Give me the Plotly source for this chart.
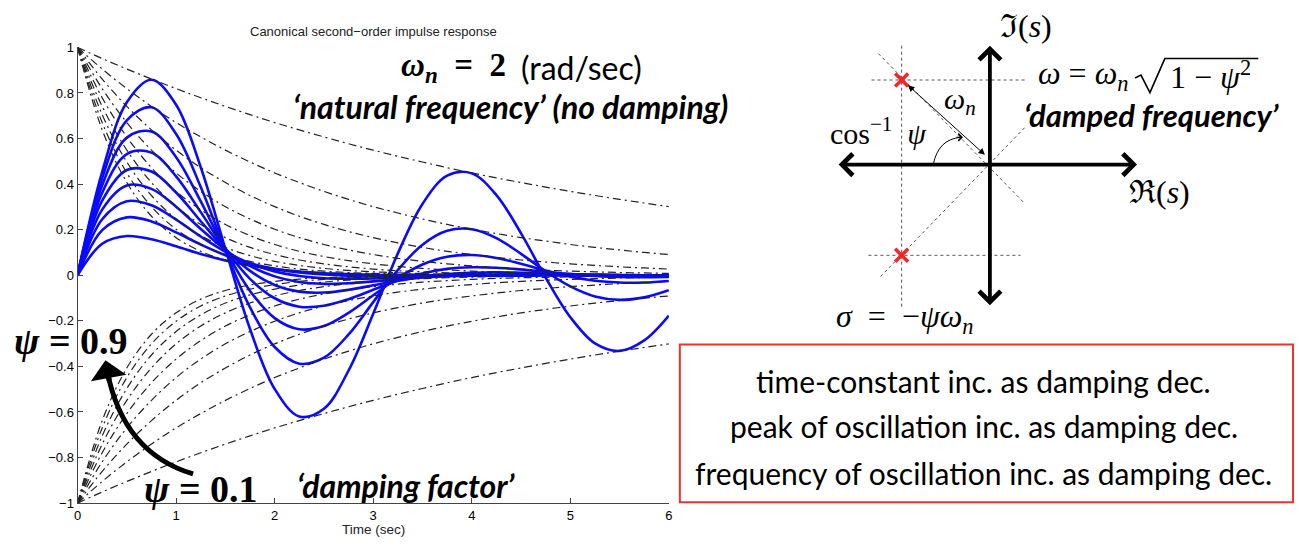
import plotly.graph_objects as go

# ---------------- data ----------------
T = [0.0, 0.25, 0.5, 0.75, 1.0, 1.25, 1.5, 1.75, 2.0, 2.25, 2.5, 2.75, 3.0,
     3.25, 3.5, 3.75, 4.0, 4.25, 4.5, 4.75, 5.0, 5.25, 5.5, 5.75, 6.0]

PSI = [0.1, 0.2, 0.3, 0.4, 0.5, 0.6, 0.7, 0.8, 0.9]

# impulse responses (blue)
H_01 = [0, 0.454, 0.759, 0.858, 0.748, 0.474, 0.116, -0.236, -0.499, -0.620, -0.586, -0.418, -0.169,
        0.096, 0.313, 0.437, 0.447, 0.352, 0.184, -0.011, -0.184, -0.299, -0.332, -0.286, -0.177]
H_02 = [0, 0.426, 0.680, 0.737, 0.620, 0.387, 0.110, -0.141, -0.315, -0.388, -0.362, -0.260, -0.118,
        0.023, 0.134, 0.195, 0.202, 0.163, 0.094, 0.017, -0.049, -0.093, -0.108, -0.097, -0.066]
H_03 = [0, 0.395, 0.604, 0.631, 0.518, 0.324, 0.112, -0.069, -0.188, -0.237, -0.223, -0.165, -0.088,
        -0.012, 0.047, 0.081, 0.089, 0.076, 0.050, 0.021, -0.006, -0.024, -0.032, -0.032, -0.025]
H_04 = [0, 0.362, 0.532, 0.538, 0.434, 0.277, 0.115, -0.016, -0.101, -0.138, -0.134, -0.105, -0.064,
        -0.024, 0.008, 0.028, 0.035, 0.033, 0.025, 0.015, 0.005, -0.003, -0.008, -0.009, -0.008]
H_05 = [0, 0.327, 0.462, 0.455, 0.363, 0.237, 0.115, 0.019, -0.043, -0.072, -0.076, -0.064, -0.044,
        -0.024, -0.007, 0.005, 0.011, 0.013, 0.011, 0.008, 0.005, 0.002, 0.000, -0.002, -0.002]
H_06 = [0, 0.288, 0.394, 0.379, 0.301, 0.203, 0.112, 0.041, -0.005, -0.030, -0.038, -0.035, -0.027,
        -0.018, -0.010, -0.003, 0.001, 0.003, 0.004, 0.003, 0.003, 0.002, 0.001, 0.000, 0.000]
H_07 = [0, 0.246, 0.325, 0.307, 0.244, 0.170, 0.103, 0.052, 0.017, -0.003, -0.013, -0.015, -0.014,
        -0.011, -0.007, -0.004, -0.002, -0.001, 0.000, 0.001, 0.001, 0.001, 0.000, 0.000, 0.000]
H_08 = [0, 0.198, 0.254, 0.236, 0.188, 0.135, 0.088, 0.053, 0.028, 0.012, 0.003, -0.002, -0.004,
        -0.004, -0.003, -0.002, -0.002, -0.001, -0.001, 0.000, 0.000, 0.000, 0.000, 0.000, 0.000]
H_09 = [0, 0.138, 0.172, 0.158, 0.127, 0.093, 0.065, 0.043, 0.027, 0.016, 0.009, 0.005, 0.002,
        0.001, 0.000, 0.000, 0.000, 0.000, 0.000, 0.000, 0.000, 0.000, 0.000, 0.000, 0.000]

# decay envelopes (black dash-dot, drawn at + and -)
ENV_01 = [1.000, 0.951, 0.905, 0.861, 0.819, 0.779, 0.741, 0.705, 0.670, 0.638, 0.607, 0.577, 0.549,
          0.522, 0.497, 0.472, 0.449, 0.427, 0.407, 0.387, 0.368, 0.350, 0.333, 0.317, 0.301]
ENV_02 = [1.000, 0.905, 0.819, 0.741, 0.670, 0.607, 0.549, 0.497, 0.449, 0.407, 0.368, 0.333, 0.301,
          0.273, 0.247, 0.223, 0.202, 0.183, 0.165, 0.150, 0.135, 0.122, 0.111, 0.100, 0.091]
ENV_03 = [1.000, 0.861, 0.741, 0.638, 0.549, 0.472, 0.407, 0.350, 0.301, 0.259, 0.223, 0.192, 0.165,
          0.142, 0.122, 0.105, 0.091, 0.078, 0.067, 0.058, 0.050, 0.043, 0.037, 0.032, 0.027]
ENV_04 = [1.000, 0.819, 0.670, 0.549, 0.449, 0.368, 0.301, 0.247, 0.202, 0.165, 0.135, 0.111, 0.091,
          0.074, 0.061, 0.050, 0.041, 0.033, 0.027, 0.022, 0.018, 0.015, 0.012, 0.010, 0.008]
ENV_05 = [1.000, 0.779, 0.607, 0.472, 0.368, 0.287, 0.223, 0.174, 0.135, 0.105, 0.082, 0.064, 0.050,
          0.039, 0.030, 0.024, 0.018, 0.014, 0.011, 0.009, 0.007, 0.005, 0.004, 0.003, 0.002]
ENV_06 = [1.000, 0.741, 0.549, 0.407, 0.301, 0.223, 0.165, 0.122, 0.091, 0.067, 0.050, 0.037, 0.027,
          0.020, 0.015, 0.011, 0.008, 0.006, 0.005, 0.003, 0.002, 0.002, 0.001, 0.001, 0.001]
ENV_07 = [1.000, 0.705, 0.497, 0.350, 0.247, 0.174, 0.122, 0.086, 0.061, 0.043, 0.030, 0.021, 0.015,
          0.011, 0.007, 0.005, 0.004, 0.003, 0.002, 0.001, 0.001, 0.001, 0.000, 0.000, 0.000]
ENV_08 = [1.000, 0.670, 0.449, 0.301, 0.202, 0.135, 0.091, 0.061, 0.041, 0.027, 0.018, 0.012, 0.008,
          0.006, 0.004, 0.002, 0.002, 0.001, 0.001, 0.000, 0.000, 0.000, 0.000, 0.000, 0.000]
ENV_09 = [1.000, 0.638, 0.407, 0.259, 0.165, 0.105, 0.067, 0.043, 0.027, 0.017, 0.011, 0.007, 0.005,
          0.003, 0.002, 0.001, 0.001, 0.000, 0.000, 0.000, 0.000, 0.000, 0.000, 0.000, 0.000]

RESPONSES = [H_01, H_02, H_03, H_04, H_05, H_06, H_07, H_08, H_09]
ENVELOPES = [ENV_01, ENV_02, ENV_03, ENV_04, ENV_05, ENV_06, ENV_07, ENV_08, ENV_09]

XTICKS = [0, 1, 2, 3, 4, 5, 6]
YTICKS = [-1, -0.8, -0.6, -0.4, -0.2, 0, 0.2, 0.4, 0.6, 0.8, 1]
YTICK_TEXT = ["\u22121", "\u22120.8", "\u22120.6", "\u22120.4", "\u22120.2", "0",
              "0.2", "0.4", "0.6", "0.8", "1"]

# s-plane sketch: pole locations (sigma, omega)
POLE_SIGMA = [-1.41, -1.41]
POLE_OMEGA = [1.38, -1.48]

BOX_LINES = ["time-constant inc. as damping dec.",
             "peak of oscillation inc. as damping dec.",
             "frequency of oscillation inc. as damping dec."]

# ---------------- figure ----------------
W, H = 1304, 551


def px(x, y):
    return x / W, 1 - y / H


fig = go.Figure()

DASHDOT = "8px,4px,2px,4px"
for h, env in zip(RESPONSES, ENVELOPES):
    fig.add_trace(go.Scatter(x=T, y=h, mode="lines", xaxis="x", yaxis="y",
                             line=dict(color="#0a0aff", width=2.6, shape="spline"),
                             hoverinfo="skip"))
    fig.add_trace(go.Scatter(x=T, y=env, mode="lines", xaxis="x", yaxis="y",
                             line=dict(color="#222", width=1.2, dash=DASHDOT, shape="spline"),
                             hoverinfo="skip"))
    fig.add_trace(go.Scatter(x=T, y=[-v for v in env], mode="lines", xaxis="x", yaxis="y",
                             line=dict(color="#222", width=1.2, dash=DASHDOT, shape="spline"),
                             hoverinfo="skip"))

# poles
fig.add_trace(go.Scatter(x=POLE_SIGMA, y=POLE_OMEGA, mode="markers", xaxis="x2", yaxis="y2",
                         marker=dict(symbol="x-thin", size=13, line=dict(color="#f02828", width=3.5)),
                         hoverinfo="skip"))

TICKFONT = dict(family="Liberation Sans, Arial", size=13, color="black")
fig.update_layout(
    width=W, height=H,
    margin=dict(l=0, r=0, t=0, b=0),
    paper_bgcolor="white", plot_bgcolor="white",
    showlegend=False,
    xaxis=dict(domain=[74 / W, 669 / W], range=[0, 6], tickvals=XTICKS,
               showline=True, linecolor="#444", linewidth=1, ticks="inside", ticklen=5,
               tickcolor="#444", showgrid=False, zeroline=False, tickfont=TICKFONT,
               anchor="y"),
    yaxis=dict(domain=[1 - 510 / H, 1 - 41.5 / H], range=[-1, 1], tickvals=YTICKS,
               ticktext=YTICK_TEXT,
               showline=True, linecolor="#444", linewidth=1, ticks="inside", ticklen=5,
               tickcolor="#444", showgrid=False, zeroline=False, tickfont=TICKFONT,
               anchor="x"),
    xaxis2=dict(domain=[820 / W, 1200 / W], range=[-2.730, 3.302], visible=False,
                anchor="y2", showgrid=False, zeroline=False),
    yaxis2=dict(domain=[1 - 340 / H, 1.0], range=[-2.825, 2.571], visible=False,
                anchor="x2", showgrid=False, zeroline=False),
)

shapes = []
# s-plane dotted construction lines
dot = dict(color="#555", width=1, dash="dot")
for (x0, y0, x1, y1) in [(-1.41, 1.94, -1.41, -2.32),
                         (-1.89, 1.38, 0.57, 1.38),
                         (-1.94, -1.48, 0.49, -1.48),
                         (-1.78, 1.81, 0.556, -0.635),
                         (-1.746, -1.825, 0.571, 0.619)]:
    shapes.append(dict(type="line", xref="x2", yref="y2", x0=x0, y0=y0, x1=x1, y1=y1, line=dot,
                       layer="below"))
# angle arc
shapes.append(dict(type="path", xref="x2", yref="y2", path="M -0.905,0 Q -0.825,0.413 -0.470,0.444",
                   line=dict(color="black", width=1)))
# curved arrow on the left plot
shapes.append(dict(type="path", xref="x", yref="y", path="M 1.172,-0.872 Q 0.465,-0.780 0.303,-0.424",
                   line=dict(color="black", width=5)))


# square-root sign drawn as a path (paper coordinates)
def ppath(points):
    parts = []
    for i, (x, y) in enumerate(points):
        xp, yp = px(x, y)
        parts.append(("M" if i == 0 else "L") + f" {xp:.5f},{yp:.5f}")
    return " ".join(parts)


shapes.append(dict(type="path", xref="paper", yref="paper",
                   path=ppath([(1138, 73), (1144, 70), (1153, 88), (1168, 53), (1262, 53)]),
                   line=dict(color="black", width=1.6)))
# red text box
bx0, by0 = px(680, 509)
bx1, by1 = px(1297, 347)
shapes.append(dict(type="rect", xref="paper", yref="paper", x0=bx0, y0=by0, x1=bx1, y1=by1,
                   line=dict(color="#e8342c", width=2), fillcolor="rgba(0,0,0,0)"))
fig.update_layout(shapes=shapes)

ann = []
# thick s-plane axes (double arrows)
ann.append(dict(x=2.35, y=0, ax=-2.44, ay=0, xref="x2", yref="y2", axref="x2", ayref="y2",
                text="", showarrow=True, arrowhead=4, startarrowhead=4, arrowside="end+start",
                arrowwidth=3.8, arrowsize=1.1, startarrowsize=1.1, arrowcolor="black"))
ann.append(dict(x=0, y=1.94, ax=0, ay=-2.32, xref="x2", yref="y2", axref="x2", ayref="y2",
                text="", showarrow=True, arrowhead=4, startarrowhead=4, arrowside="end+start",
                arrowwidth=3.8, arrowsize=1.1, startarrowsize=1.1, arrowcolor="black"))
# omega_n double arrow
ann.append(dict(x=-0.079, y=0.159, ax=-1.333, ay=1.317, xref="x2", yref="y2", axref="x2", ayref="y2",
                text="", showarrow=True, arrowhead=2, startarrowhead=2, arrowside="end+start",
                arrowwidth=1, arrowsize=1.3, startarrowsize=1.3, arrowcolor="black"))
# arc arrowhead
ann.append(dict(x=-0.43, y=0.446, ax=-8, ay=0, xref="x2", yref="y2",
                text="", showarrow=True, arrowhead=4, arrowwidth=1, arrowsize=1.4, arrowcolor="black"))
# curved arrow head (left)
ann.append(dict(x=0.283, y=-0.373, ax=4, ay=22, xref="x", yref="y",
                text="", showarrow=True, arrowhead=1, arrowwidth=5, arrowsize=1.2, arrowcolor="black"))

SERIF = "Liberation Serif, DejaVu Serif, serif"
SANS = "Lato, Open Sans, sans-serif"
EN = "\u2002"


def txt(x, y, text, family, size, xanchor="center", color="black"):
    xp, yp = px(x, y)
    ann.append(dict(x=xp, y=yp, xref="paper", yref="paper", text=text, showarrow=False,
                    xanchor=xanchor, yanchor="middle",
                    font=dict(family=family, size=size, color=color)))


txt(372, 25, "Canonical second\u2212order impulse response", "Liberation Sans, Arial", 13, color="#222")
txt(372, 537, "Time (sec)", "Liberation Sans, Arial", 13.5, color="#222")

txt(452, 62, f"<b><i>\u03c9</i><sub><i>n</i></sub>{EN}={EN}2</b>", SERIF, 33)
txt(581, 62, "(rad/sec)", SANS, 32)
txt(510, 102, "<b><i>\u2018natural frequency\u2019 (no damping)</i></b>", SANS, 32)
txt(67, 343, "<b><i>\u03c8</i> = 0.9</b>", SERIF, 38)
txt(198, 496, "<b><i>\u03c8</i> = 0.1</b>", SERIF, 38)
txt(405, 492, "<b><i>\u2018damping factor\u2019</i></b>", SANS, 32)

txt(1028, 20, "\u2111(<i>s</i>)", SERIF, 32)
txt(1163, 190, "\u211c(<i>s</i>)", SERIF, 32)
txt(1038, 70, "<i>\u03c9</i> = <i>\u03c9</i><sub><i>n</i></sub>", SERIF, 32, xanchor="left")
txt(1171, 70, "1 \u2212 <i>\u03c8</i><sup>2</sup>", SERIF, 32, xanchor="left")
txt(1155, 111, "<b><i>\u2018damped frequency\u2019</i></b>", SANS, 31)
txt(962, 97, "<i>\u03c9</i><sub><i>n</i></sub>", SERIF, 30)
txt(829, 127, f"cos<sup>\u22121</sup>{EN}<i>\u03c8</i>", SERIF, 30, xanchor="left")
txt(835, 320, f"<i>\u03c3</i>{EN}={EN}\u2212<i>\u03c8\u03c9</i><sub><i>n</i></sub>", SERIF, 32, xanchor="left")

for line, yy in zip(BOX_LINES, [384, 431, 479]):
    txt(986, yy, line, SANS, 30)

fig.update_layout(annotations=ann)

fig.write_html("out.html", post_script="document.body.style.margin='0';",
               config={"displayModeBar": False})
